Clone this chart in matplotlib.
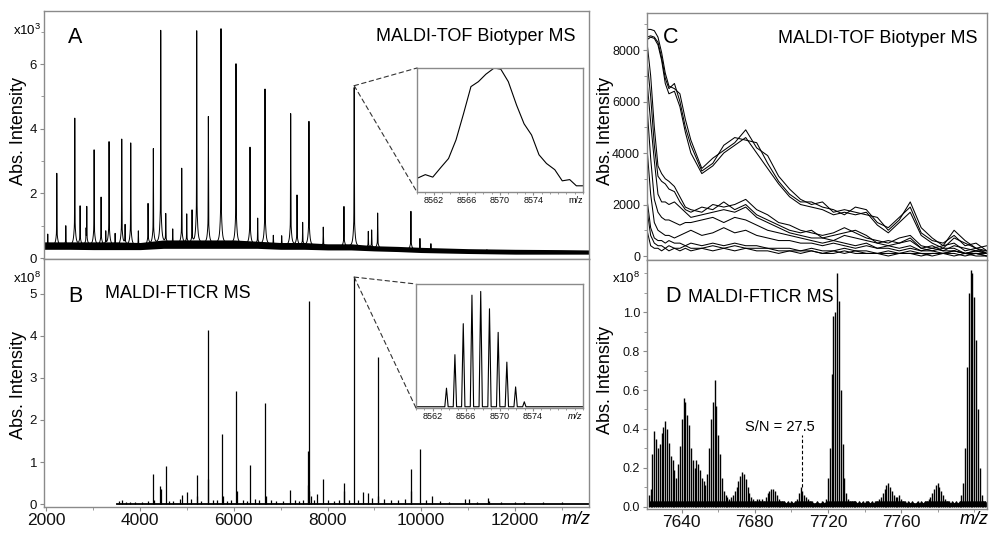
import numpy as np
import matplotlib.pyplot as plt
from matplotlib.patches import ConnectionPatch
from matplotlib.ticker import MultipleLocator, FormatStrFormatter

plt.rcParams['font.family'] = ['Liberation Sans', 'DejaVu Sans']
plt.rcParams['mathtext.default'] = 'regular'

# --- Panel A: MALDI-TOF overview (peak m/z, peak top x10^3) ---
a_peak_mz = [2030, 2223, 2415, 2607, 2720, 2848, 2863, 3019, 3168, 3268, 3338, 3467,
             3609, 3680, 3801, 3963, 4170, 4283, 4441, 4548, 4697, 4889, 4996, 5109,
             5209, 5457, 5727, 6047, 6346, 6510, 6666, 6843, 7022, 7214, 7349, 7470,
             7604, 7909, 8351, 8569, 8870, 8942, 9070, 9780, 9972, 10206, 11401]
a_peak_int = [0.75, 2.63, 1.0, 4.33, 1.6, 0.8, 1.55, 3.35, 1.88, 0.8, 3.6, 0.75,
              3.68, 1.0, 3.57, 0.85, 1.67, 3.35, 7.0, 1.3, 0.85, 2.73, 1.3, 1.4,
              6.98, 4.33, 7.05, 5.97, 3.4, 1.2, 5.22, 0.7, 0.7, 4.48, 1.95, 1.1,
              4.25, 1.0, 1.64, 5.33, 0.9, 0.95, 1.49, 1.58, 0.75, 0.6, 0.45]
# noise band of the baseline
a_base_mz = [1950, 2500, 3000, 3500, 4000, 4500, 5000, 5500, 6000, 6500, 7000, 7500,
             8000, 8500, 9000, 9500, 10000, 11000, 12000, 13000, 13580]
a_base_lo = [0.27, 0.27, 0.26, 0.26, 0.26, 0.3, 0.3, 0.3, 0.3, 0.3, 0.27, 0.27,
             0.25, 0.25, 0.22, 0.2, 0.17, 0.14, 0.12, 0.12, 0.12]
a_base_hi = [0.5, 0.5, 0.5, 0.5, 0.48, 0.56, 0.56, 0.56, 0.56, 0.52, 0.48, 0.48,
             0.44, 0.44, 0.38, 0.36, 0.33, 0.29, 0.27, 0.26, 0.25]

# inset A: profile of the 8569 peak (relative)
ins_a_mz = [8560, 8561.0, 8561.9, 8562.9, 8563.8, 8564.7, 8565.6, 8566.5, 8567.4, 8568.3,
            8569.3, 8570.1, 8571.0, 8572.0, 8572.9, 8573.8, 8574.7, 8575.6, 8576.6,
            8577.5, 8578.4, 8579.2, 8580]
ins_a_int = [0.11, 0.14, 0.12, 0.20, 0.27, 0.42, 0.63, 0.85, 0.89, 0.95, 1.0, 0.99,
             0.89, 0.70, 0.55, 0.46, 0.30, 0.23, 0.18, 0.09, 0.10, 0.05, 0.05]

# --- Panel B: MALDI-FTICR overview (x10^8) ---
b_peak_mz = [3560, 3620, 3700, 3790, 3900, 4050, 4170, 4283, 4300, 4430, 4445, 4548,
             4620, 4700, 4850, 4889, 4996, 5080, 5209, 5225, 5300, 5444, 5460, 5560,
             5650, 5742, 5760, 5850, 5950, 6047, 6060, 6200, 6280, 6346, 6450, 6530,
             6666, 6680, 6800, 6900, 7050, 7199, 7300, 7400, 7480, 7575, 7585, 7595,
             7610, 7650, 7720, 7780, 7909, 8000, 8130, 8250, 8351, 8360, 8450, 8569,
             8650, 8750, 8857, 8950, 9070, 9080, 9200, 9350, 9500, 9650, 9774, 9790,
             9972, 10100, 10222, 10400, 10600, 10932, 11017, 11200, 11423, 11450,
             11700, 12000, 12200, 12600, 13000]
b_peak_int = [0.08, 0.1, 0.05, 0.06, 0.05, 0.05, 0.08, 0.72, 0.1, 0.42, 0.35, 0.9,
              0.08, 0.08, 0.12, 0.22, 0.28, 0.12, 0.7, 0.2, 0.08, 4.15, 0.6, 0.1,
              0.1, 1.66, 0.2, 0.08, 0.1, 2.68, 0.3, 0.1, 0.08, 0.92, 0.12, 0.1,
              2.4, 0.2, 0.1, 0.08, 0.08, 0.33, 0.1, 0.08, 0.1, 0.45, 1.27, 4.83,
              0.3, 0.2, 0.1, 0.25, 0.6, 0.1, 0.08, 0.1, 0.5, 0.3, 0.1, 5.4,
              0.1, 0.28, 0.27, 0.15, 3.5, 0.2, 0.12, 0.1, 0.1, 0.12, 0.83, 0.3,
              1.31, 0.1, 0.18, 0.08, 0.05, 0.13, 0.13, 0.06, 0.14, 0.08,
              0.05, 0.04, 0.05, 0.06, 0.04]
b_base_start = 3500

# inset B: isotope pattern of the 8569 peak (relative)
ins_b_mz = [8562.6, 8563.65, 8564.66, 8565.66, 8566.7, 8567.75, 8568.8, 8569.84,
            8570.88, 8571.93, 8572.97, 8574.0]
ins_b_int = [0.01, 0.16, 0.43, 0.68, 0.91, 0.94, 0.80, 0.61, 0.37, 0.17, 0.05, 0.01]

# --- Panel C: overlaid MALDI-TOF profiles, 7621-7807 ---
c_mz = [7621, 7623, 7625, 7627, 7629, 7631, 7633, 7636, 7639, 7642, 7645, 7651, 7657,
        7663, 7669, 7675, 7681, 7687, 7693, 7699, 7705, 7711, 7717, 7723, 7729, 7735,
        7741, 7747, 7753, 7759, 7765, 7771, 7777, 7783, 7789, 7795, 7801, 7807]
c_g1a = [8800, 8800, 8750, 8500, 7900, 7100, 6600, 6500, 6300, 5300, 4500, 3400, 3800,
         4100, 4400, 4900, 4200, 3900, 3100, 2600, 2200, 2000, 2100, 1700, 1800, 1700,
         1600, 1500, 1000, 1400, 2100, 1100, 700, 400, 1000, 600, 300, 400]
c_g1b = [8500, 8550, 8500, 8300, 7700, 6900, 6500, 6700, 6000, 5000, 4300, 3300, 3600,
         4300, 4600, 4500, 4400, 3600, 2900, 2400, 2100, 2100, 1900, 1800, 1600, 1900,
         1800, 1300, 1100, 1500, 1900, 900, 600, 500, 800, 400, 500, 200]
c_g1c = [8400, 8500, 8450, 8200, 7600, 6700, 6300, 6400, 5800, 4800, 4000, 3200, 3500,
         4000, 4300, 4600, 4000, 3400, 2800, 2300, 2000, 1900, 1800, 1600, 1700, 1600,
         1700, 1200, 900, 1300, 1700, 800, 500, 300, 700, 500, 300, 200]
c_g2a = [8300, 7000, 5000, 3500, 3200, 3000, 2900, 2700, 2300, 1900, 1800, 1700, 2000,
         1900, 2000, 2200, 1800, 1600, 1300, 1200, 1000, 900, 800, 900, 1100, 900,
         700, 600, 500, 700, 800, 400, 300, 400, 500, 200, 300, 100]
c_g2b = [7600, 6200, 4300, 3100, 2900, 2800, 2600, 2500, 2100, 1800, 1700, 1900, 1800,
         2100, 1800, 2000, 1600, 1400, 1200, 1000, 900, 1000, 700, 800, 900, 1000,
         800, 500, 600, 500, 700, 300, 400, 200, 400, 300, 200, 200]
c_g2c = [6800, 5200, 3700, 2400, 2100, 2100, 2000, 2100, 1900, 1700, 1500, 1600, 1700,
         1800, 1700, 1900, 1500, 1300, 1100, 900, 800, 700, 700, 600, 800, 700,
         600, 500, 400, 500, 600, 300, 200, 300, 300, 100, 200, 100]
c_g3a = [5800, 3800, 2200, 1700, 1500, 1400, 1400, 1300, 1200, 1300, 1300, 1400, 1500,
         1300, 1500, 1400, 1200, 1000, 900, 800, 700, 600, 500, 600, 500, 400,
         500, 300, 400, 300, 400, 200, 300, 200, 200, 100, 200, 100]
c_g3b = [4200, 2400, 1300, 1000, 900, 800, 800, 700, 800, 900, 1000, 800, 900,
         1100, 900, 1000, 800, 700, 600, 600, 500, 500, 400, 500, 400, 300,
         400, 300, 300, 200, 300, 200, 200, 100, 200, 100, 100, 100]
c_g4a = [2200, 1100, 700, 600, 600, 500, 600, 500, 500, 400, 500, 400, 500,
         400, 500, 400, 400, 300, 300, 300, 200, 300, 200, 200, 300, 200,
         200, 100, 200, 100, 200, 100, 100, 100, 200, 100, 100, 0]
c_g4b = [1800, 800, 500, 400, 400, 300, 400, 300, 300, 400, 300, 300, 400,
         300, 400, 300, 300, 300, 200, 200, 200, 200, 100, 200, 100, 200,
         100, 100, 100, 100, 100, 100, 0, 100, 100, 0, 100, 0]
c_g4c = [1000, 400, 300, 300, 200, 300, 200, 300, 200, 300, 200, 300, 200,
         300, 200, 300, 200, 200, 100, 200, 100, 200, 100, 100, 200, 100,
         100, 100, 0, 100, 100, 0, 100, 100, 0, 100, 0, 0]

# --- Panel D: MALDI-FTICR zoom, one value per m/z unit 7622..7807 (x10^8) ---
d_mz_start = 7622
d_int = [0.06, 0.09, 0.27, 0.39, 0.35, 0.30, 0.32, 0.38, 0.41, 0.44,
         0.40, 0.33, 0.26, 0.24, 0.19, 0.15, 0.22, 0.31, 0.45, 0.56,
         0.54, 0.47, 0.42, 0.30, 0.24, 0.20, 0.24, 0.22, 0.19, 0.15,
         0.13, 0.11, 0.17, 0.30, 0.45, 0.54, 0.65, 0.52, 0.37, 0.27,
         0.15, 0.08, 0.06, 0.05, 0.04, 0.05, 0.06, 0.08, 0.10, 0.13,
         0.16, 0.18, 0.17, 0.14, 0.10, 0.07, 0.05, 0.04, 0.03, 0.04,
         0.04, 0.03, 0.04, 0.03, 0.05, 0.07, 0.08, 0.09, 0.09, 0.08,
         0.06, 0.04, 0.03, 0.03, 0.03, 0.02, 0.03, 0.02, 0.03, 0.02,
         0.03, 0.04, 0.07, 0.10, 0.08, 0.06, 0.05, 0.04, 0.03, 0.03,
         0.02, 0.02, 0.03, 0.02, 0.02, 0.03, 0.02, 0.04, 0.15, 0.30,
         0.68, 0.98, 1.00, 1.20, 1.06, 0.60, 0.32, 0.15, 0.07, 0.04,
         0.03, 0.03, 0.03, 0.03, 0.02, 0.03, 0.02, 0.03, 0.02, 0.03,
         0.03, 0.02, 0.03, 0.02, 0.03, 0.03, 0.04, 0.05, 0.07, 0.09,
         0.11, 0.12, 0.10, 0.08, 0.06, 0.05, 0.05, 0.06, 0.04, 0.03,
         0.03, 0.02, 0.03, 0.02, 0.03, 0.02, 0.02, 0.03, 0.02, 0.03,
         0.02, 0.03, 0.03, 0.04, 0.05, 0.07, 0.09, 0.11, 0.12, 0.10,
         0.08, 0.06, 0.04, 0.03, 0.03, 0.02, 0.03, 0.02, 0.03, 0.02,
         0.03, 0.06, 0.12, 0.30, 0.72, 1.10, 1.22, 1.20, 1.08, 0.86,
         0.50, 0.20, 0.06, 0.03, 0.03, 0.02]
sn_mz, sn_lo, sn_hi = 7705.6, 0.10, 0.37

W, H = 993, 533
fig = plt.figure(figsize=(9.93, 5.33), dpi=100)


def box(l, t, r, b):
    return [l / W, 1 - b / H, (r - l) / W, (b - t) / H]


def ftext(x, y, s, **kw):
    fig.text(x / W, 1 - y / H, s, **kw)


def frame(ax):
    for s in ax.spines.values():
        s.set_color('#8a8a8a')
        s.set_linewidth(1.0)
    ax.tick_params(which='major', colors='#8a8a8a', labelcolor='#111111',
                   direction='out', length=3, width=0.8)
    ax.tick_params(which='minor', colors='#8a8a8a', direction='out', length=2, width=0.6)


axA = fig.add_axes(box(44, 11, 589, 259))
axB = fig.add_axes(box(44, 259, 589, 507))
axC = fig.add_axes(box(647, 13, 987, 260))
axD = fig.add_axes(box(647, 260, 987, 509))
insA = fig.add_axes(box(417, 68, 583, 192))
insB = fig.add_axes(box(416, 284, 583, 408))
for ax in (axA, axB, axC, axD, insA, insB):
    frame(ax)

# Panel A
grid = np.arange(1950, 13580, 1.0)
mid = np.interp(grid, a_base_mz, (np.array(a_base_lo) + np.array(a_base_hi)) / 2)
prof = mid.copy()
for c, h in zip(a_peak_mz, a_peak_int):
    amp = max(h - 0.4, 0)
    d = grid - c
    prof += 0.82 * amp * np.exp(-0.5 * (d / 3.0) ** 2) + 0.18 * amp / (1 + (d / 20) ** 2)
axA.fill_between(a_base_mz, a_base_lo, a_base_hi, color='k', lw=0)
axA.plot(grid, prof, color='k', lw=0.7)
axA.set_xlim(1950, 13580)
axA.set_ylim(-0.03, 7.64)
axA.set_xticks([])
axA.set_yticks([0, 2, 4, 6])
axA.yaxis.set_minor_locator(MultipleLocator(1))
axA.tick_params(axis='y', labelsize=9.5, pad=2)

# Panel B
axB.plot([b_base_start, 13580], [0.01, 0.01], color='k', lw=1.3)
axB.vlines(b_peak_mz, 0, b_peak_int, color='k', lw=0.9)
axB.set_xlim(1950, 13580)
axB.set_ylim(-0.07, 5.83)
axB.set_yticks([0, 1, 2, 3, 4, 5])
axB.set_xticks([2000, 4000, 6000, 8000, 10000, 12000])
axB.xaxis.set_minor_locator(MultipleLocator(1000))
axB.tick_params(axis='y', labelsize=9.5, pad=2)
axB.tick_params(axis='x', labelsize=12.5, pad=1)

# Panel C
for tr in (c_g1a, c_g1b, c_g1c, c_g2a, c_g2b, c_g2c, c_g3a, c_g3b, c_g4a, c_g4b, c_g4c):
    axC.plot(c_mz, tr, color='k', lw=0.75)
axC.set_xlim(7621, 7807)
axC.set_ylim(-155, 9437)
axC.set_xticks([])
axC.set_yticks([0, 2000, 4000, 6000, 8000])
axC.yaxis.set_minor_locator(MultipleLocator(1000))
axC.tick_params(axis='y', labelsize=9, pad=2)

# Panel D
d_mz = np.arange(d_mz_start, d_mz_start + len(d_int))
d_arr = np.array(d_int)
axD.fill_between(d_mz, 0, np.minimum(d_arr, 0.03), color='k', lw=0)
axD.vlines(d_mz, 0, d_arr, color='k', lw=1.0)
axD.plot([sn_mz, sn_mz], [sn_lo, sn_hi], color='k', lw=0.8, ls=(0, (3, 2)))
axD.text(7693.5, 0.39, 'S/N = 27.5', ha='center', va='baseline', fontsize=10.5)
axD.set_xlim(7621, 7807)
axD.set_ylim(-0.012, 1.269)
axD.set_yticks([0.0, 0.2, 0.4, 0.6, 0.8, 1.0])
axD.yaxis.set_major_formatter(FormatStrFormatter('%.1f'))
axD.yaxis.set_minor_locator(MultipleLocator(0.1))
axD.set_xticks([7640, 7680, 7720, 7760])
axD.xaxis.set_minor_locator(MultipleLocator(20))
axD.tick_params(axis='y', labelsize=9, pad=2)
axD.tick_params(axis='x', labelsize=12.5, pad=1)

# Insets
insA.plot(ins_a_mz, ins_a_int, color='k', lw=0.8)
insA.set_ylim(0, 1.0)
xs, ys = [8560], [0.01]
for c, h in zip(ins_b_mz, ins_b_int):
    xs += [c - 0.2, c, c + 0.2]
    ys += [0.01, h, 0.01]
xs.append(8580)
ys.append(0.01)
insB.plot(xs, ys, color='k', lw=0.8)
insB.set_ylim(0, 1.0)
for ins, it in ((insA, False), (insB, True)):
    ins.set_xlim(8560, 8580)
    ins.set_yticks([])
    ins.set_xticks([8562, 8566, 8570, 8574])
    ins.xaxis.set_minor_locator(MultipleLocator(1))
    ins.tick_params(axis='x', labelsize=6.5, pad=1, length=2)
    ins.tick_params(axis='x', which='minor', length=1.2)
    ins.text(0.955, -0.035, 'm/z', transform=ins.transAxes, ha='center', va='top',
             fontsize=6.5, style='italic' if it else 'normal')

# dashed connectors
for ax, ins, top in ((axA, insA, 5.33), (axB, insB, 5.4)):
    for corner in ((0, 1), (0, 0)):
        cp = ConnectionPatch(xyA=(8569, top), coordsA='data', axesA=ax,
                             xyB=corner, coordsB='axes fraction', axesB=ins,
                             color='#333333', lw=0.8, ls=(0, (4, 3)))
        fig.add_artist(cp)

# labels
big = 15.5
ftext(68, 43, 'A', fontsize=big, va='baseline')
ftext(68, 302, 'B', fontsize=big, va='baseline')
ftext(663, 43, 'C', fontsize=big, va='baseline')
ftext(665, 302, 'D', fontsize=big, va='baseline')
ftext(576, 41, 'MALDI-TOF Biotyper MS', fontsize=13, ha='right', va='baseline')
ftext(105, 298, 'MALDI-FTICR MS', fontsize=13, va='baseline')
ftext(977, 43, 'MALDI-TOF Biotyper MS', fontsize=13, ha='right', va='baseline')
ftext(688, 302, 'MALDI-FTICR MS', fontsize=13, va='baseline')
ftext(13, 35, 'x10$^3$', fontsize=9.5, va='baseline')
ftext(13, 283, 'x10$^8$', fontsize=9.5, va='baseline')
ftext(612, 283, 'x10$^8$', fontsize=9.5, va='baseline')
for x, y in ((19, 131), (19, 385), (605, 131), (605, 380)):
    ftext(x, y, 'Abs. Intensity', fontsize=13, rotation=90, ha='center', va='center')
ftext(576, 520, 'm/z', fontsize=13, style='italic', ha='center', va='center')
ftext(974, 520, 'm/z', fontsize=13, style='italic', ha='center', va='center')

fig.savefig('out.png', dpi=100)
